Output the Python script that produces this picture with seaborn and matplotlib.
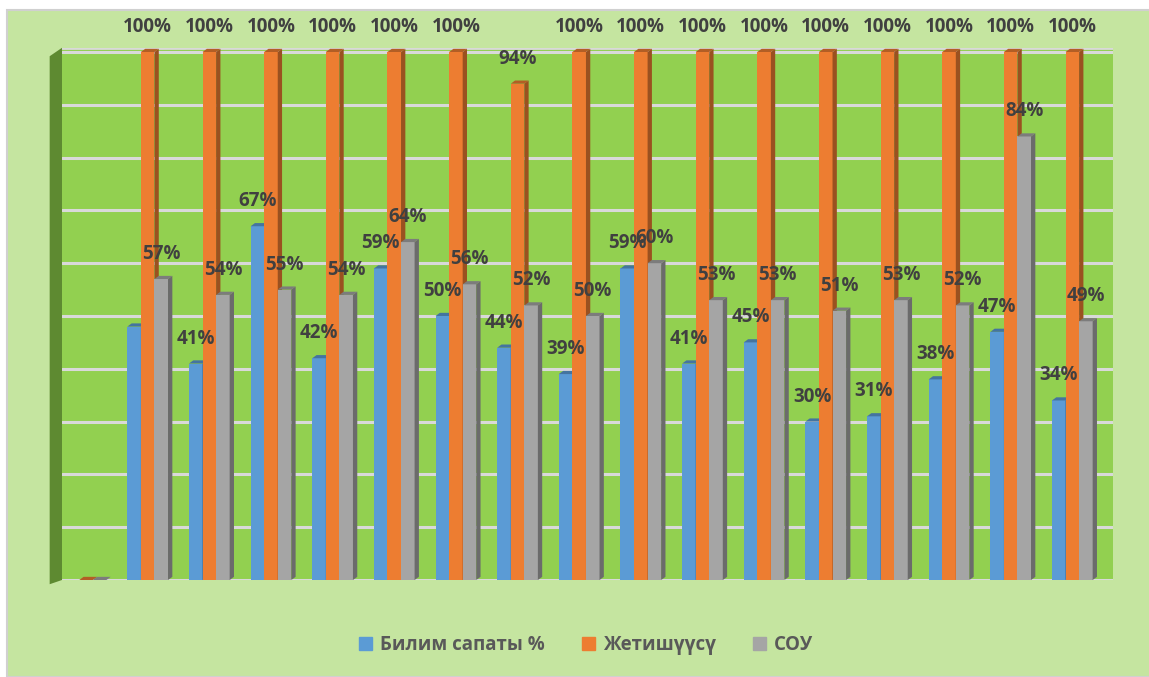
import pandas as pd
import matplotlib.pyplot as plt
import seaborn as sns
from matplotlib.patches import Polygon, Rectangle
from matplotlib.colors import to_rgb

# Data (first category is empty)
categories = [str(i) for i in range(17)]
bilim = [0, 48, 41, 67, 42, 59, 50, 44, 39, 59, 41, 45, 30, 31, 38, 47, 34]
jetish = [0, 100, 100, 100, 100, 100, 100, 94, 100, 100, 100, 100, 100, 100, 100, 100, 100]
sou = [0, 57, 54, 55, 54, 64, 56, 52, 50, 60, 53, 53, 51, 53, 52, 84, 49]
series_names = ['Билим сапаты %', 'Жетишүүсү', 'СОУ']
colors = ['#5B9BD5', '#ED7D31', '#A5A5A5']

df = pd.DataFrame({'cat': categories * 3,
                   'series': [series_names[0]] * 17 + [series_names[1]] * 17 + [series_names[2]] * 17,
                   'value': bilim + jetish + sou})
# blue bar of the empty first group is not drawn at all
df.loc[0, 'value'] = float('nan')

sns.set_style('white')
plt.rcParams['font.family'] = ['Open Sans', 'Noto Sans', 'DejaVu Sans']

fig = plt.figure(figsize=(11.49, 6.77), dpi=100, facecolor='white')
fig.patches.append(Rectangle((7 / 1149, 0), 1, 1 - 10 / 677, transform=fig.transFigure,
                             facecolor='#C5E5A0', edgecolor='#D0D0D0', lw=1.5, zorder=-10))
ax = fig.add_axes([62 / 1149, 1 - 580 / 677, 1051 / 1149, 528 / 677 * 1.008])
ax.set_facecolor('#92D050')

sns.barplot(data=df, x='cat', y='value', hue='series', palette=colors, width=0.66,
            ax=ax, legend=False, saturation=1, linewidth=0)

xlo, xhi = -0.39, 16.66
ax.set_ylim(0, 100.8)
ax.set_xlim(xlo, xhi)
ax.set_yticks(range(0, 101, 10))
ax.yaxis.grid(True, color='#D9D9D9', lw=2.2)
ax.set_axisbelow(True)
ax.set_xticks([])
ax.set_yticklabels([])
ax.tick_params(left=False)
ax.set_xlabel('')
ax.set_ylabel('')
for s in ax.spines.values():
    s.set_visible(False)
ax.axhline(100.8, color='#D9D9D9', lw=2, zorder=1)


def darker(c, f):
    r, g, b = to_rgb(c)
    return (r * f, g * f, b * f)


# fake 3D faces built from the bars seaborn drew
dx, dy = 0.07, 0.6
for k, cont in enumerate(ax.containers):
    z = 3 + k
    for p in cont.patches:
        p.set_zorder(z)
        h = p.get_height()
        if pd.isna(h):
            continue
        x, w = p.get_x(), p.get_width()
        ax.add_patch(Polygon([(x + w, 0), (x + w + dx, dy), (x + w + dx, h + dy), (x + w, h)],
                             closed=True, facecolor=darker(colors[k], 0.65), lw=0, zorder=z))
        ax.add_patch(Polygon([(x, h), (x + dx, h + dy), (x + w + dx, h + dy), (x + w, h)],
                             closed=True, facecolor=darker(colors[k], 0.75), lw=0, zorder=z))

# left wall
ax.add_patch(Polygon([(xlo, 0), (xlo, 100.8), (xlo - 0.2, 99.2), (xlo - 0.2, -0.8)], closed=True,
                     facecolor='#5E8A31', lw=0, clip_on=False, zorder=1))

# value labels
for k, cont in enumerate(ax.containers):
    for i, p in enumerate(cont.patches):
        if i == 0:
            continue
        h = p.get_height()
        ax.annotate(f'{int(h)}%', (p.get_x() + p.get_width() / 2, h), xytext=(0, 18),
                    textcoords='offset points', ha='center', va='center', fontsize=13.5,
                    fontweight='bold', color='#404040', zorder=10, annotation_clip=False)

handles = [Rectangle((0, 0), 1, 1, color=c) for c in colors]
fig.legend(handles, series_names, loc='center', bbox_to_anchor=(0.51, 1 - 645 / 677), ncol=3,
           frameon=False, handlelength=0.7, handleheight=0.7, columnspacing=2.0, handletextpad=0.4,
           prop={'weight': 'bold', 'size': 13.5}, labelcolor='#595959')

fig.savefig('out.png', dpi=100, facecolor=fig.get_facecolor())
